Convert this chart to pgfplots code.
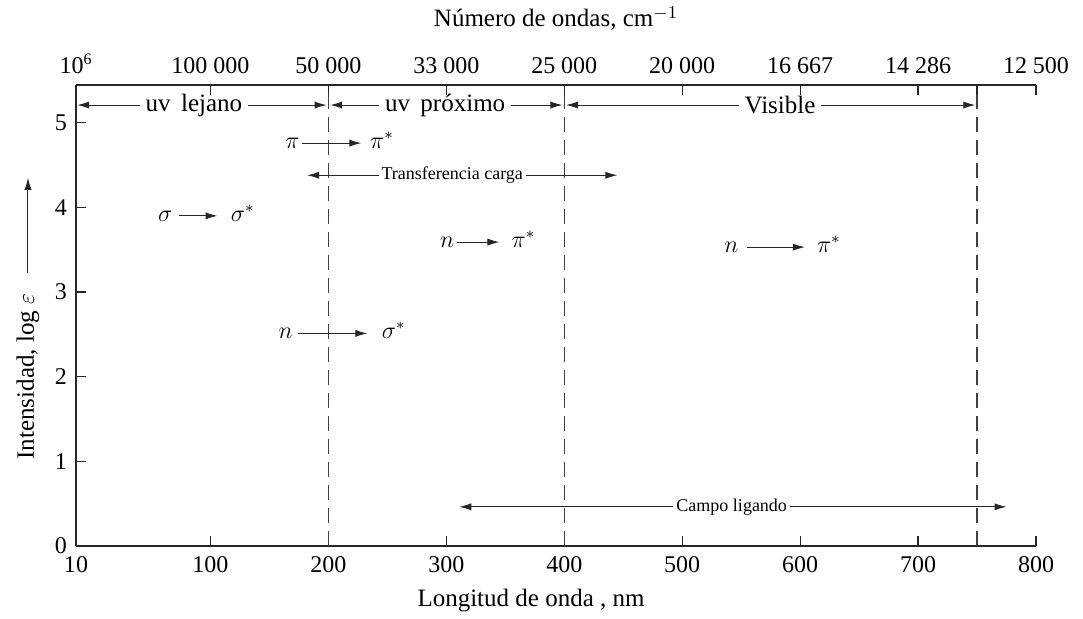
\documentclass[border=0pt]{standalone}
\usepackage{fontspec}
\setmainfont{Liberation Serif}
\usepackage{pgfplots}
\pgfplotsset{compat=1.18}
\usetikzlibrary{arrows.meta}

\begin{document}
\begin{tikzpicture}[
  arr/.style={line width=0.5pt, black!85, -{Latex[length=6pt,width=3.6pt]}},
  darr/.style={line width=0.5pt, black!85, {Latex[length=6pt,width=3.6pt]}-{Latex[length=6pt,width=3.6pt]}},
  vdash/.style={line width=0.7pt, black!75, dash pattern=on 7.5pt off 4pt},
  lab/.style={inner sep=0pt, font=\fontsize{12}{14}\selectfont},
  small/.style={fill=white, inner sep=1.5pt, font=\fontsize{9}{11}\selectfont},
  big/.style={fill=white, inner sep=3pt, font=\fontsize{12.5}{14}\selectfont},
]
\pgfplotsset{
  common/.style={scale only axis, width=480pt, height=230.5pt,
    xmin=-14, xmax=800, ymin=0, ymax=5.45, clip=false,
    tick align=inside, major tick length=5pt,
    axis line style={line width=0.8pt, black!85},
    every tick/.style={black!85, line width=0.6pt},
    font=\fontsize{12}{14}\selectfont},
}
% ---------- bottom / left axis with the content ----------
\begin{axis}[common, axis x line*=bottom, axis y line*=left,
  xtick={-14,100,200,300,400,500,600,700,800},
  xticklabels={10,100,200,300,400,500,600,700,800},
  ytick={0,1,2,3,4,5}, yticklabels={0,1,2,3,4,5},
  xticklabel style={yshift=-2pt},
  yticklabel style={xshift=-1pt},
]
\coordinate (bl) at (rel axis cs:0,0);
\coordinate (tr) at (rel axis cs:1,1);

% region boundaries
\addplot[vdash] coordinates {(200,0) (200,5.45)};
\addplot[vdash] coordinates {(400,0) (400,5.45)};
\addplot[vdash] coordinates {(750,0) (750,5.45)};

% regions along the top
\addplot[darr] coordinates {(-13,5.21) (198.5,5.21)};
\addplot[darr] coordinates {(201.5,5.21) (398.5,5.21)};
\addplot[darr] coordinates {(401.5,5.21) (748.5,5.21)};
\node[big] at (axis cs:86,5.21) {uv\, lejano};
\node[big] at (axis cs:299,5.21) {uv\, próximo};
\node[big] at (axis cs:583,5.21) {Visible};

% transitions
\addplot[arr] coordinates {(178,4.76) (228,4.76)};
\node[lab, anchor=base east] at ([yshift=-2.6pt]axis cs:176,4.76) {$\pi$};
\node[lab, anchor=base west] at ([yshift=-2.6pt]axis cs:235,4.76) {$\pi^{*}$};

\addplot[darr] coordinates {(182,4.38) (445,4.38)};
\node[small] at (axis cs:305,4.38) {Transferencia carga};

\addplot[arr] coordinates {(73,3.90) (106,3.90)};
\node[lab, anchor=base east] at ([yshift=-2.6pt]axis cs:68,3.90) {$\sigma$};
\node[lab, anchor=base west] at ([yshift=-2.6pt]axis cs:117,3.90) {$\sigma^{*}$};

\addplot[arr] coordinates {(309,3.59) (345,3.59)};
\node[lab, anchor=base east] at ([yshift=-2.6pt]axis cs:307,3.59) {$n$};
\node[lab, anchor=base west] at ([yshift=-2.6pt]axis cs:355,3.59) {$\pi^{*}$};

\addplot[arr] coordinates {(555,3.53) (604,3.53)};
\node[lab, anchor=base east] at ([yshift=-2.6pt]axis cs:548,3.53) {$n$};
\node[lab, anchor=base west] at ([yshift=-2.6pt]axis cs:614,3.53) {$\pi^{*}$};

\addplot[arr] coordinates {(174,2.51) (233,2.51)};
\node[lab, anchor=base east] at ([yshift=-2.6pt]axis cs:170,2.51) {$n$};
\node[lab, anchor=base west] at ([yshift=-2.6pt]axis cs:245,2.51) {$\sigma^{*}$};

\addplot[darr] coordinates {(311,0.46) (775,0.46)};
\node[small] at (axis cs:542,0.46) {Campo ligando};

% axis titles
\node[font=\fontsize{12.5}{14}\selectfont] at ([yshift=-27.5pt]rel axis cs:0.474,0) {Longitud de onda , nm};
\node[font=\fontsize{12.5}{14}\selectfont, rotate=90] at ([xshift=-24pt]axis cs:-14,2.0) {Intensidad, log $\varepsilon$};
\draw[arr] ([xshift=-24pt]axis cs:-14,3.23) -- ([xshift=-24pt]axis cs:-14,4.35);
\end{axis}

% ---------- top axis: wave numbers ----------
\begin{axis}[common, axis x line*=top, axis y line=none, ytick=\empty,
  xtick={-14,100,200,300,400,500,600,700,750,800},
  xticklabels={10\textsuperscript{6},{100 000},{50 000},{33 000},{25 000},{20 000},{16 667},{14 286},{},{12 500}},
  xticklabel style={yshift=2pt},
]
\node[font=\fontsize{12.5}{14}\selectfont] at ([yshift=33pt]rel axis cs:0.5,1) {Número de ondas, cm$^{-1}$};
\end{axis}

\path (bl) ++(-38pt,-36pt);
\path (tr) ++(23.5pt,42pt);
\end{tikzpicture}
\end{document}
